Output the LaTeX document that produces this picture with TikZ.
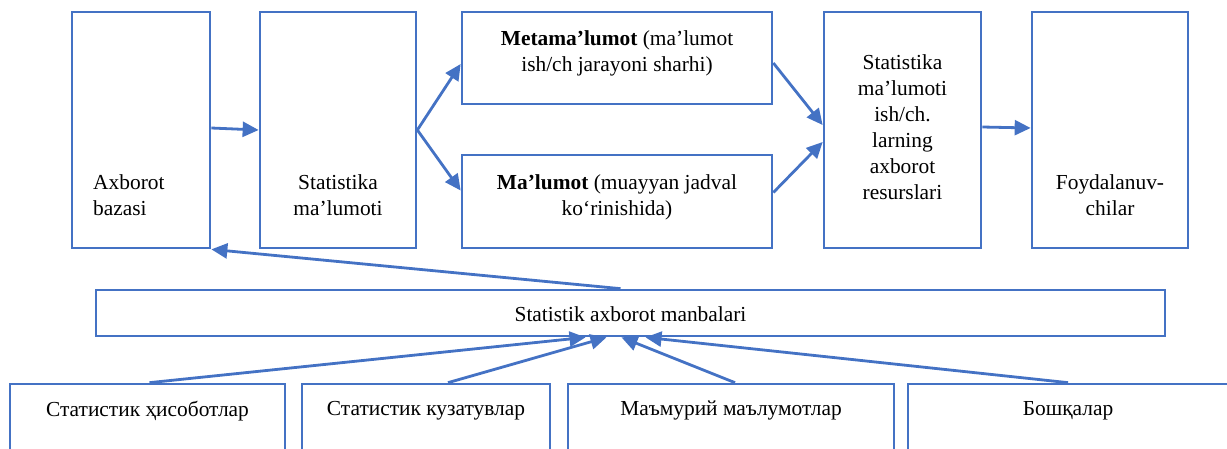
\documentclass[tikz,border=0pt]{standalone}
\usepackage{fontspec}
\setmainfont{Liberation Serif}
\usetikzlibrary{arrows.meta}
\definecolor{boxblue}{RGB}{68,114,196}

\begin{document}
\begin{tikzpicture}[x=1pt,y=-1pt,
		box/.style={draw=boxblue, line width=2.7pt, inner sep=0pt},
		txt/.style={inner sep=0pt, align=center, font=\fontsize{21.4}{26}\selectfont},
		arr/.style={draw=boxblue, line width=2.8pt, -{Triangle[length=16pt,width=15pt]}}]
				\clip (0,0) rectangle (1227,448);
				% top row
				\node[box, minimum width=138pt, minimum height=236pt] (baza) at (141,130) {};
				\node[box, minimum width=156pt, minimum height=236pt] (stat) at (338,130) {};
				\node[box, minimum width=310pt, minimum height=92pt] (meta) at (617,58) {};
				\node[box, minimum width=310pt, minimum height=93pt] (malu) at (617,201.5) {};
				\node[box, minimum width=157pt, minimum height=236pt] (resurs) at (902.5,130) {};
				\node[box, minimum width=156pt, minimum height=236pt] (foyd) at (1110,130) {};
				\node[txt, anchor=west, align=left] at (93,195) {Axborot\\bazasi};
				\node[txt] at (338,195) {Statistika\\ma’lumoti};
				\node[txt] at (617,53) {\textbf{Metama’lumot} (ma’lumot\\ish/ch jarayoni sharhi)};
				\node[txt] at (617,197) {\textbf{Ma’lumot} (muayyan jadval\\ko‘rinishida)};
				\node[txt] at (902.5,127) {Statistika\\ma’lumoti\\ish/ch.\\larning\\axborot\\resurslari};
				\node[txt] at (1110,195) {Foydalanuv-\\chilar};
				% sources
				\node[box, minimum width=1069pt, minimum height=46pt] (manba) at (630.5,313) {};
				\node[txt] at (630.5,314) {Statistik axborot manbalari};
				\node[box, minimum width=275pt, minimum height=100pt] (hisob) at (147.5,434) {};
				\node[box, minimum width=248pt, minimum height=100pt] (kuzat) at (426,434) {};
				\node[box, minimum width=326pt, minimum height=100pt] (mamur) at (731,434) {};
				\node[box, minimum width=320pt, minimum height=100pt] (boshq) at (1068,434) {};
				\node[txt] at ([yshift=-28pt]hisob.north) {Статистик ҳисоботлар};
				\node[txt] at ([yshift=-28pt]kuzat.north) {Статистик кузатувлар};
				\node[txt] at ([yshift=-28pt]mamur.north) {Маъмурий маълумотлар};
				\node[txt] at ([yshift=-28pt]boshq.north) {Бошқалар};
				% arrows
				\draw[arr] ([yshift=2pt]baza.east) -- (stat.west);
				\draw[arr] (stat.east) -- ([yshift=-6pt]meta.west);
				\draw[arr] (stat.east) -- ([yshift=11pt]malu.west);
				\draw[arr] ([yshift=-5pt]meta.east) -- ([yshift=5pt]resurs.west);
				\draw[arr] ([yshift=9pt]malu.east) -- ([yshift=-12pt]resurs.west);
				\draw[arr] ([yshift=3pt]resurs.east) -- ([yshift=2pt]foyd.west);
				\draw[arr] ([xshift=-10pt]manba.north) -- (baza.south east);
				\draw[arr] ([xshift=2pt]hisob.north) -- ([xshift=-45pt]manba.south);
				\draw[arr] ([xshift=22pt]kuzat.north) -- ([xshift=-24pt]manba.south);
				\draw[arr] ([xshift=4pt]mamur.north) -- ([xshift=-9pt]manba.south);
				\draw[arr] (boshq.north) -- ([xshift=15pt]manba.south);
\end{tikzpicture}
\end{document}
